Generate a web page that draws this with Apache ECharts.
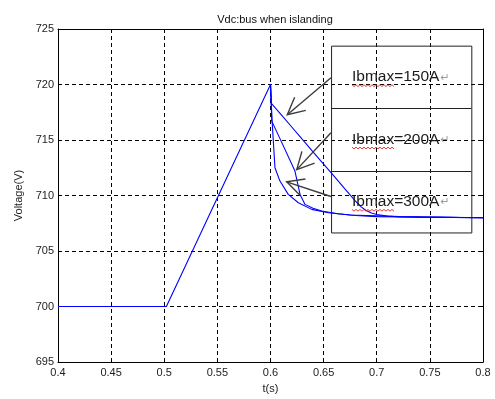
<!DOCTYPE html>
<html><head><meta charset="utf-8">
<script src="https://cdn.jsdelivr.net/npm/echarts@6/dist/echarts.min.js"></script>
<style>html,body{margin:0;padding:0;background:#fff}#c{width:495px;height:399px}</style>
</head><body><div id="c"></div>
<script>
// ---- data ----
const xTickLabels = ['0.4','0.45','0.5','0.55','0.6','0.65','0.7','0.75','0.8'];
const yTickLabels = ['695','700','705','710','715','720','725'];

// common part before islanding
const tPre = [0.4, 0.502, 0.6];
const vPre = [700, 700, 720];

// Ibmax = 150A
const t150 = [0.6, 0.6008, 0.61, 0.62, 0.63, 0.64, 0.65, 0.66, 0.67, 0.68, 0.685, 0.69, 0.695, 0.7, 0.71, 0.72, 0.74, 0.8];
const v150 = [720, 718.3, 717.28, 716.17, 715.05, 713.94, 712.83, 711.72, 710.6, 709.5, 709.0, 708.65, 708.42, 708.28, 708.15, 708.08, 708.05, 708.0];

// Ibmax = 200A
const t200 = [0.6, 0.6012, 0.61, 0.623, 0.6278, 0.6325, 0.64, 0.6482, 0.6635, 0.68, 0.7, 0.8];
const v200 = [720, 716.7, 714.9, 712.2, 710.1, 709.2, 708.85, 708.6, 708.36, 708.2, 708.1, 708.0];

// Ibmax = 300A
const t300 = [0.6, 0.6015, 0.6042, 0.6089, 0.6167, 0.6262, 0.6388, 0.6544, 0.6748, 0.722, 0.8];
const v300 = [720, 716.7, 712.5, 711.3, 710.1, 709.35, 708.75, 708.45, 708.25, 708.1, 708.0];

// annotation labels
const labels = ['Ibmax=150A', 'Ibmax=200A', 'Ibmax=300A'];

const zip = (a, b) => a.map((x, i) => [x, b[i]]);

const chart = echarts.init(document.getElementById('c'), null, {renderer: 'canvas'});
const FONT = '"Liberation Sans", Arial, sans-serif';
const gridLine = {show: true, lineStyle: {color: '#000', width: 1, type: [4, 3]}};
const axLine = {show: true, onZero: false, lineStyle: {color: '#000', width: 1}};
const tick = {show: true, inside: true, length: 4, lineStyle: {color: '#000', width: 1}};

const lineSeries = (d) => ({
  type: 'line', data: d, showSymbol: false, symbol: 'none',
  lineStyle: {color: '#0000ff', width: 1.1}, xAxisIndex: 0, yAxisIndex: 0,
  animation: false, silent: true
});

chart.setOption({
  backgroundColor: '#fff',
  animation: false,
  title: {
    text: 'Vdc:bus when islanding', left: 270, top: 9, textAlign: 'center',
    textStyle: {fontFamily: FONT, fontSize: 11, fontWeight: 'normal', color: '#111'}
  },
  grid: {left: 58, right: 12, top: 29, bottom: 36, containLabel: false},
  xAxis: [{
    type: 'value', min: 0.4, max: 0.8, interval: 0.05, position: 'bottom',
    axisLine: axLine, axisTick: tick, splitLine: gridLine,
    axisLabel: {fontFamily: FONT, fontSize: 11, color: '#222', margin: 5,
      formatter: (v) => xTickLabels[Math.round((v - 0.4) / 0.05)]},
    name: 't(s)', nameLocation: 'middle', nameGap: 21,
    nameTextStyle: {fontFamily: FONT, fontSize: 11, color: '#222'}
  }, {
    type: 'value', min: 0.4, max: 0.8, interval: 0.05, position: 'top',
    axisLine: axLine, axisTick: tick, splitLine: {show: false}, axisLabel: {show: false}
  }],
  yAxis: [{
    type: 'value', min: 695, max: 725, interval: 5, position: 'left',
    axisLine: axLine, axisTick: tick, splitLine: gridLine,
    axisLabel: {fontFamily: FONT, fontSize: 11, color: '#222', margin: 4,
      formatter: (v) => yTickLabels[Math.round((v - 695) / 5)]},
    name: 'Voltage(V)', nameLocation: 'middle', nameGap: 32,
    nameTextStyle: {fontFamily: FONT, fontSize: 11, color: '#222'}
  }, {
    type: 'value', min: 695, max: 725, interval: 5, position: 'right',
    axisLine: axLine, axisTick: tick, splitLine: {show: false}, axisLabel: {show: false}
  }],
  series: [
    lineSeries(zip(tPre, vPre)),
    lineSeries(zip(t150, v150)),
    lineSeries(zip(t200, v200)),
    lineSeries(zip(t300, v300))
  ]
});

// ---- annotation (box, labels, arrows) anchored in data coordinates ----
const P = (t, v) => chart.convertToPixel({xAxisIndex: 0, yAxisIndex: 0}, [t, v]);
const boxTL = P(0.657, 723.5), boxBR = P(0.789, 706.67);
const div1 = P(0.657, 717.9)[1], div2 = P(0.657, 712.24)[1];
const labelAnchors = [[0.6767, 720.69], [0.6767, 715.07], [0.6767, 709.46]];
const arrows = [
  {tail: [0.6569, 720.6], tip: [0.6158, 717.28]},
  {tail: [0.6569, 715.66], tip: [0.6247, 712.33]},
  {tail: [0.6569, 709.91], tip: [0.6152, 711.23]}
];

const g = [];
g.push({type: 'rect', shape: {x: boxTL[0] + 0.5, y: boxTL[1] + 0.5, width: boxBR[0] - boxTL[0], height: boxBR[1] - boxTL[1]},
  style: {fill: 'none', stroke: '#222', lineWidth: 1}, z: 50});
[div1, div2].forEach(y => g.push({type: 'line', shape: {x1: boxTL[0], y1: Math.round(y) + 0.5, x2: boxBR[0], y2: Math.round(y) + 0.5},
  style: {stroke: '#222', lineWidth: 1}, z: 50}));

const ctx = document.createElement('canvas').getContext('2d');
const LFS = 15.5;
ctx.font = LFS + 'px "Liberation Sans"';
labels.forEach((txt, i) => {
  const p = P(labelAnchors[i][0], labelAnchors[i][1]);
  const fullW = ctx.measureText(txt).width;
  const ulW = ctx.measureText(txt.slice(0, 5)).width;
  g.push({type: 'text', x: p[0], y: p[1], z: 60,
    style: {text: txt, fill: '#1a1a1a', font: LFS + 'px ' + FONT, verticalAlign: 'middle', align: 'left'}});
  g.push({type: 'text', x: p[0] + fullW + 1, y: p[1] + 1, z: 60,
    style: {text: '↵', fill: '#9a9aa8', font: '11px "DejaVu Sans"', verticalAlign: 'middle', align: 'left'}});
  // red wavy spelling underline
  const pts = [];
  const y0 = p[1] + 8.5;
  for (let x = 0, k = 0; x <= ulW; x += 2, k++) pts.push([p[0] + x, y0 + (k % 2 ? 1.2 : -0.6)]);
  g.push({type: 'polyline', shape: {points: pts}, z: 61, style: {stroke: '#e02020', lineWidth: 0.9, fill: 'none'}});
});

arrows.forEach(a => {
  const tl = P(a.tail[0], a.tail[1]), tp = P(a.tip[0], a.tip[1]);
  const ang = Math.atan2(tl[1] - tp[1], tl[0] - tp[0]);
  const L = 19, h = 27 * Math.PI / 180;
  const a1 = [tp[0] + L * Math.cos(ang - h), tp[1] + L * Math.sin(ang - h)];
  const a2 = [tp[0] + L * Math.cos(ang + h), tp[1] + L * Math.sin(ang + h)];
  g.push({type: 'line', shape: {x1: tl[0], y1: tl[1], x2: tp[0], y2: tp[1]}, z: 55, style: {stroke: '#3c3c3c', lineWidth: 1.4}});
  g.push({type: 'polyline', shape: {points: [a1, tp, a2]}, z: 55, style: {stroke: '#3c3c3c', lineWidth: 1.4, fill: 'none'}});
});

chart.setOption({graphic: g});
</script>
</body></html>
